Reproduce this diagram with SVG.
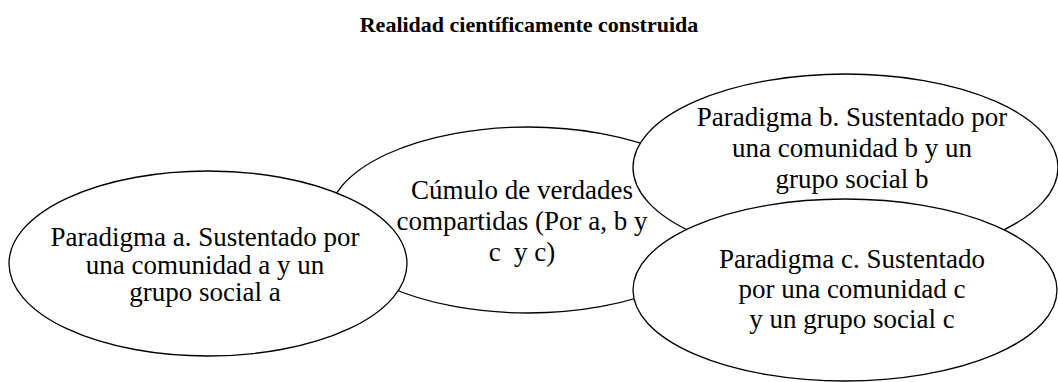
<svg xmlns="http://www.w3.org/2000/svg" width="1058" height="382" viewBox="0 0 1058 382">
<style>
.bg{fill:#ffffff}
.node ellipse{fill:#ffffff;stroke:#000000;stroke-width:1.3}
.lbl{font-family:"Liberation Serif","Times New Roman",serif;font-size:27px;fill:#000000;text-anchor:middle}
.title{font-family:"Liberation Serif","Times New Roman",serif;font-size:22px;font-weight:bold;fill:#000000;text-anchor:middle}
</style>
<rect class="bg" x="0" y="0" width="1058" height="382"/>
<text id="title" class="title" x="529" y="32">Realidad científicamente construida</text>
<g id="connectors"></g>
<g id="node-cumulo" class="node">
<ellipse cx="528" cy="220" rx="200" ry="93"/>
<text class="lbl" x="522" y="198.5">Cúmulo de verdades</text>
<text class="lbl" x="522" y="229.5">compartidas (Por a, b y</text>
<text class="lbl" x="522" y="260.5" style="white-space:pre">c  y c)</text>
</g>
<g id="node-paradigma-a" class="node">
<ellipse cx="208" cy="263.5" rx="199" ry="92.5"/>
<text class="lbl" x="205" y="246">Paradigma a. Sustentado por</text>
<text class="lbl" x="205" y="273.5">una comunidad a y un</text>
<text class="lbl" x="205" y="301">grupo social a</text>
</g>
<g id="node-paradigma-b" class="node">
<ellipse cx="845.5" cy="167.5" rx="212.5" ry="93.5"/>
<text class="lbl" x="852" y="126">Paradigma b. Sustentado por</text>
<text class="lbl" x="852" y="157">una comunidad b y un</text>
<text class="lbl" x="852" y="187.5">grupo social b</text>
</g>
<g id="node-paradigma-c" class="node">
<ellipse cx="845" cy="290" rx="212" ry="91"/>
<text class="lbl" x="852" y="267.5">Paradigma c. Sustentado</text>
<text class="lbl" x="852" y="297.5">por una comunidad c</text>
<text class="lbl" x="852" y="327.5">y un grupo social c</text>
</g>
</svg>
